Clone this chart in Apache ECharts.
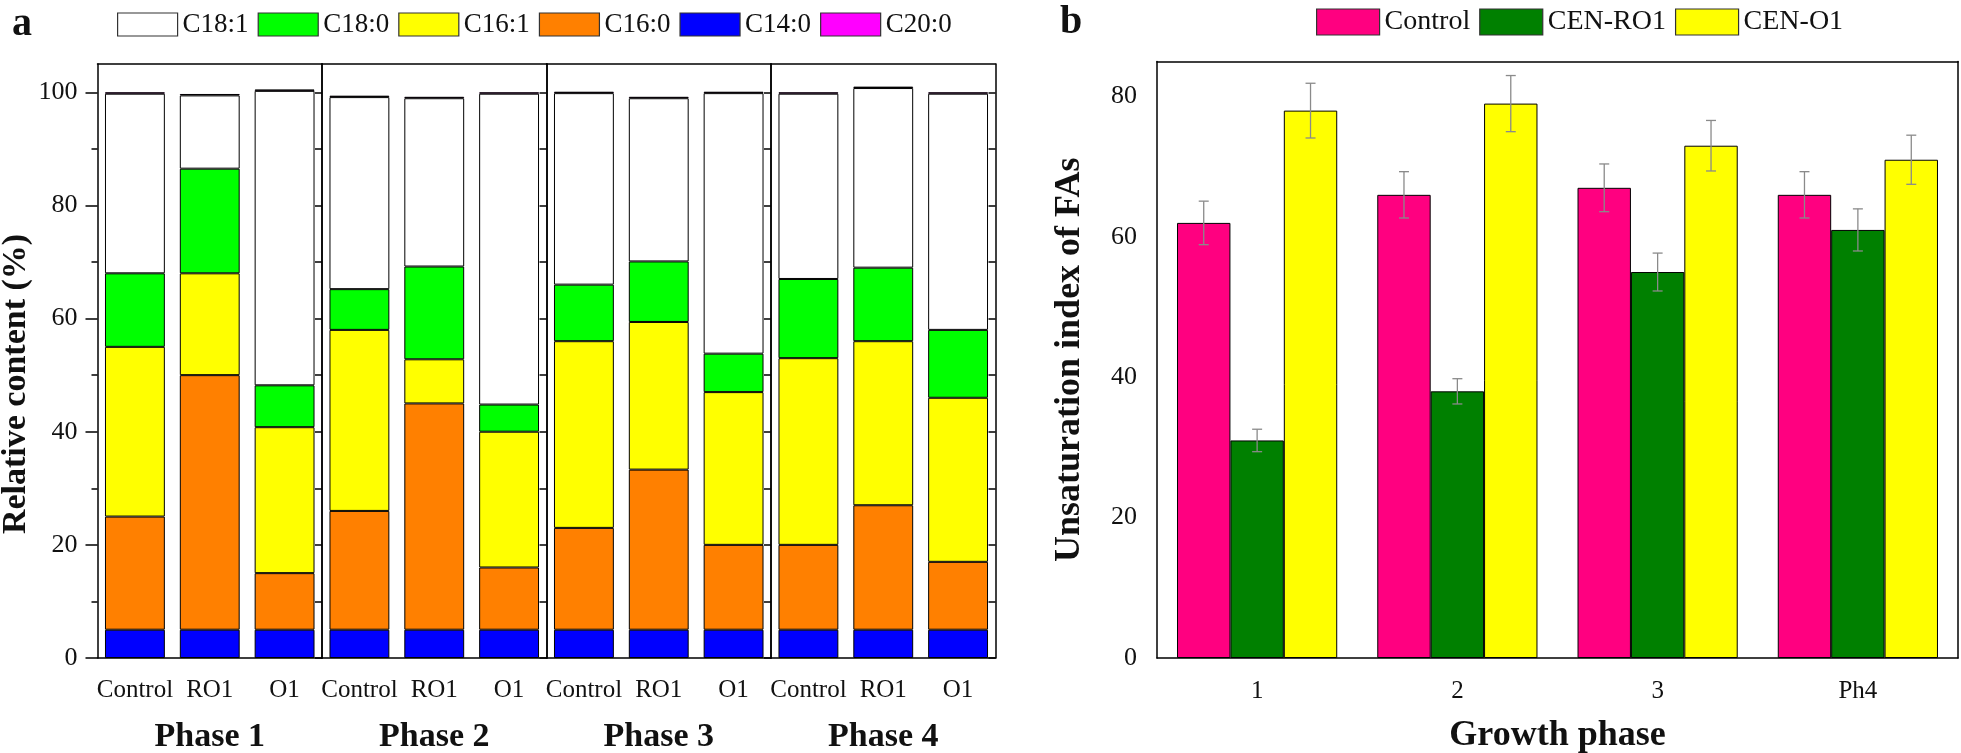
<!DOCTYPE html>
<html><head><meta charset="utf-8">
<script src="https://cdn.jsdelivr.net/npm/echarts@6/dist/echarts.min.js"></script>
<style>html,body{margin:0;padding:0;background:#fff}#c{width:1961px;height:753px}</style>
</head><body><div id="c"></div>
<script>
// ---------- Panel a data (stacked segment values, %), order per phase: Control, RO1, O1 ----------
const phases = ['Phase 1', 'Phase 2', 'Phase 3', 'Phase 4'];
const samples = ['Control', 'RO1', 'O1'];
const C14_0 = [5, 5, 5, 5, 5, 5, 5, 5, 5, 5, 5, 5];
const C16_0 = [20, 45, 10, 21, 40, 11, 18, 28.3, 15, 15, 22, 12];
const C16_1 = [30, 18, 25.8, 32, 7.8, 24, 33, 26.1, 27, 33, 29, 29];
const C18_0 = [13, 18.5, 7.4, 7.2, 16.4, 4.8, 10, 10.7, 6.8, 14, 13, 12];
const C18_1 = [31.75, 12.95, 52.05, 33.95, 29.75, 54.95, 33.85, 28.85, 46.05, 32.75, 31.75, 41.75];
const C20_0 = [0.25, 0.25, 0.25, 0.25, 0.25, 0.25, 0.25, 0.25, 0.25, 0.25, 0.25, 0.25];
const faTicks = [0, 20, 40, 60, 80, 100];
const faMinorTicks = [10, 30, 50, 70, 90];
const faRightTicks = [0, 10, 20, 30, 40, 50, 60, 70, 80, 90, 100];
const faLegend = ['C18:1', 'C18:0', 'C16:1', 'C16:0', 'C14:0', 'C20:0'];

// ---------- Panel b data ----------
const phaseB = ['1', '2', '3', 'Ph4'];
const treatments = ['Control', 'CEN-RO1', 'CEN-O1'];
const uiControl = [62, 66, 67, 66];
const uiRO1 = [31, 38, 55, 61];
const uiO1 = [78, 79, 73, 71];
const errControl = [3.1, 3.3, 3.4, 3.3];
const errRO1 = [1.6, 1.8, 2.7, 3.0];
const errO1 = [3.9, 4.0, 3.6, 3.5];
const uiTicks = [0, 20, 40, 60, 80];
const uiMinorTicks = [10, 30, 50, 70];
const uiRightTicks = [0, 10, 20, 30, 40, 50, 60, 70, 80];

const FONT = "'Liberation Serif', 'Times New Roman', serif";
const TXT = '#111';
const LINE = {color: '#000', width: 1.5};

const A_LEFT = 97.5, A_W = 224.5, A_TOP = 64, A_BOTTOM = 95, A_MAX = 105;
const B_LEFT = 1157, B_RIGHT = 3, B_TOP = 61.5, B_BOTTOM = 95, B_MAX = 85;

const faSeries = [
  {name: 'C14:0', data: C14_0, color: '#0000FF'},
  {name: 'C16:0', data: C16_0, color: '#FF8000'},
  {name: 'C16:1', data: C16_1, color: '#FFFF00'},
  {name: 'C18:0', data: C18_0, color: '#00FF00'},
  {name: 'C18:1', data: C18_1, color: '#FFFFFF'},
  {name: 'C20:0', data: C20_0, color: '#FF00FF'}
];

const grid = [], xAxis = [], yAxis = [], series = [];

for (let k = 0; k < 4; k++) {
  grid.push({left: A_LEFT + k * A_W, width: A_W, top: A_TOP, bottom: A_BOTTOM,
    containLabel: false, outerBoundsMode: 'none'});
  xAxis.push({type: 'category', gridIndex: k, data: samples, position: 'bottom',
    axisLine: {onZero: false, lineStyle: LINE},
    axisTick: {alignWithLabel: true, interval: 0, length: 10, lineStyle: LINE},
    axisLabel: {interval: 0, margin: 20, fontSize: 25, color: TXT, fontFamily: FONT},
    name: phases[k], nameLocation: 'middle', nameGap: 62,
    nameTextStyle: {fontSize: 34, fontWeight: 'bold', color: TXT, fontFamily: FONT}});
  xAxis.push({type: 'category', gridIndex: k, data: samples, position: 'bottom',
    axisLine: {show: false, onZero: false},
    axisTick: {alignWithLabel: false, interval: 0, length: 10, lineStyle: LINE},
    axisLabel: {show: false}});
  xAxis.push({type: 'category', gridIndex: k, data: samples, position: 'top',
    axisLine: {onZero: false, lineStyle: LINE},
    axisTick: {alignWithLabel: true, interval: 0, inside: true, length: 10, lineStyle: LINE},
    axisLabel: {show: false}});
  xAxis.push({type: 'category', gridIndex: k, data: samples, position: 'top',
    axisLine: {show: false, onZero: false},
    axisTick: {alignWithLabel: false, interval: 0, inside: true, length: 5, lineStyle: LINE},
    axisLabel: {show: false}});

  yAxis.push({type: 'value', gridIndex: k, position: 'left', min: 0, max: A_MAX,
    axisLine: {show: true, onZero: false, lineStyle: LINE},
    axisTick: {show: k === 0, customValues: faTicks, length: 12, lineStyle: LINE},
    axisLabel: {show: k === 0, customValues: faTicks, margin: 20, fontSize: 26, color: TXT, fontFamily: FONT},
    splitLine: {show: false}});
  yAxis.push({type: 'value', gridIndex: k, position: 'left', min: 0, max: A_MAX,
    axisLine: {show: false},
    axisTick: {show: k === 0, customValues: faMinorTicks, length: 6, lineStyle: LINE},
    axisLabel: {show: false}, splitLine: {show: false}});
  yAxis.push({type: 'value', gridIndex: k, position: 'right', min: 0, max: A_MAX,
    axisLine: {show: true, onZero: false, lineStyle: LINE},
    axisTick: {show: true, inside: true, customValues: faRightTicks, length: 7, lineStyle: LINE},
    axisLabel: {show: false}, splitLine: {show: false}});

  faSeries.forEach(fa => {
    series.push({type: 'bar', name: fa.name, stack: 'phase' + k,
      xAxisIndex: 4 * k, yAxisIndex: 3 * k,
      data: fa.data.slice(3 * k, 3 * k + 3),
      barCategoryGap: '20%',
      itemStyle: {color: fa.color, borderColor: '#000', borderWidth: 1}});
  });
}

// ---------- Panel b ----------
grid.push({left: B_LEFT, right: B_RIGHT, top: B_TOP, bottom: B_BOTTOM,
  containLabel: false, outerBoundsMode: 'none'});
const gB = 4;
xAxis.push({type: 'category', gridIndex: gB, data: phaseB, position: 'bottom',
  axisLine: {onZero: false, lineStyle: LINE},
  axisTick: {alignWithLabel: true, interval: 0, length: 10, lineStyle: LINE},
  axisLabel: {interval: 0, margin: 21, fontSize: 25, color: TXT, fontFamily: FONT},
  name: 'Growth phase', nameLocation: 'middle', nameGap: 60,
  nameTextStyle: {fontSize: 36, fontWeight: 'bold', color: TXT, fontFamily: FONT}});
xAxis.push({type: 'category', gridIndex: gB, data: phaseB, position: 'bottom',
  axisLine: {show: false, onZero: false},
  axisTick: {alignWithLabel: false, interval: 0, length: 10, lineStyle: LINE},
  axisLabel: {show: false}});
xAxis.push({type: 'category', gridIndex: gB, data: phaseB, position: 'top',
  axisLine: {onZero: false, lineStyle: LINE},
  axisTick: {alignWithLabel: true, interval: 0, inside: true, length: 10, lineStyle: LINE},
  axisLabel: {show: false}});
xAxis.push({type: 'category', gridIndex: gB, data: phaseB, position: 'top',
  axisLine: {show: false, onZero: false},
  axisTick: {alignWithLabel: false, interval: 0, inside: true, length: 5, lineStyle: LINE},
  axisLabel: {show: false}});
const xB = 16;

yAxis.push({type: 'value', gridIndex: gB, position: 'left', min: 0, max: B_MAX,
  axisLine: {show: true, onZero: false, lineStyle: LINE},
  axisTick: {customValues: uiTicks, length: 12, lineStyle: LINE},
  axisLabel: {customValues: uiTicks, margin: 20, fontSize: 26, color: TXT, fontFamily: FONT},
  splitLine: {show: false},
  name: 'Unsaturation index of FAs', nameLocation: 'middle', nameGap: 69,
  nameTextStyle: {fontSize: 36, fontWeight: 'bold', color: TXT, fontFamily: FONT}});
yAxis.push({type: 'value', gridIndex: gB, position: 'left', min: 0, max: B_MAX,
  axisLine: {show: false},
  axisTick: {customValues: uiMinorTicks, length: 6, lineStyle: LINE},
  axisLabel: {show: false}, splitLine: {show: false}});
yAxis.push({type: 'value', gridIndex: gB, position: 'right', min: 0, max: B_MAX,
  axisLine: {show: true, onZero: false, lineStyle: LINE},
  axisTick: {inside: true, customValues: uiRightTicks, length: 10, lineStyle: LINE},
  axisLabel: {show: false}, splitLine: {show: false}});
const yB = 12;

const bSeries = [
  {name: treatments[0], data: uiControl, err: errControl, color: '#FF0080'},
  {name: treatments[1], data: uiRO1, err: errRO1, color: '#008000'},
  {name: treatments[2], data: uiO1, err: errO1, color: '#FFFF00'}
];
bSeries.forEach(s => {
  series.push({type: 'bar', name: s.name, xAxisIndex: xB, yAxisIndex: yB,
    data: s.data, barGap: '0%', barCategoryGap: '20%',
    itemStyle: {color: s.color, borderColor: '#000', borderWidth: 1}});
});
bSeries.forEach((s, si) => {
  series.push({type: 'custom', name: 'err ' + s.name, xAxisIndex: xB, yAxisIndex: yB, z: 5,
    data: s.data.map((v, i) => [i, v, s.err[i]]),
    renderItem: function (params, api) {
      const i = api.value(0), m = api.value(1), e = api.value(2);
      const band = api.size([1, 0])[0];
      const bw = band * 0.8 / 3;
      const off = (si - 1) * bw;
      const top = api.coord([i, m + e]);
      const bot = api.coord([i, m - e]);
      const x = top[0] + off;
      const st = {stroke: '#8a8a8a', lineWidth: 1.3};
      const cap = 5;
      return {type: 'group', children: [
        {type: 'line', shape: {x1: x, y1: top[1], x2: x, y2: bot[1]}, style: st},
        {type: 'line', shape: {x1: x - cap, y1: top[1], x2: x + cap, y2: top[1]}, style: st},
        {type: 'line', shape: {x1: x - cap, y1: bot[1], x2: x + cap, y2: bot[1]}, style: st}
      ]};
    }});
});

const option = {
  animation: false,
  backgroundColor: '#fff',
  textStyle: {fontFamily: FONT, color: TXT},
  grid: grid, xAxis: xAxis, yAxis: yAxis, series: series,
  legend: [
    {data: faLegend, left: 112, top: 6, itemWidth: 60, itemHeight: 23, itemGap: 9, icon: 'rect',
      selectedMode: false, textStyle: {fontSize: 27, color: TXT, fontFamily: FONT},
      itemStyle: {borderColor: '#333', borderWidth: 1.2}},
    {data: treatments, left: 1311, top: 3, itemWidth: 63, itemHeight: 26, itemGap: 9, icon: 'rect',
      selectedMode: false, textStyle: {fontSize: 28, color: TXT, fontFamily: FONT},
      itemStyle: {borderColor: '#333', borderWidth: 1.2}}
  ],
  graphic: [
    {type: 'text', left: 12, top: 5, style: {text: 'a', font: 'bold 40px ' + FONT, fill: TXT}},
    {type: 'text', left: 1060, top: 3, style: {text: 'b', font: 'bold 40px ' + FONT, fill: TXT}},
    {type: 'text', x: 16, y: 384, rotation: Math.PI / 2,
      style: {text: 'Relative content (%)', font: 'bold 34px ' + FONT, fill: TXT,
        align: 'center', verticalAlign: 'middle'}}
  ]
};

const chart = echarts.init(document.getElementById('c'), null, {renderer: 'canvas'});
chart.setOption(option);
</script>
</body></html>
